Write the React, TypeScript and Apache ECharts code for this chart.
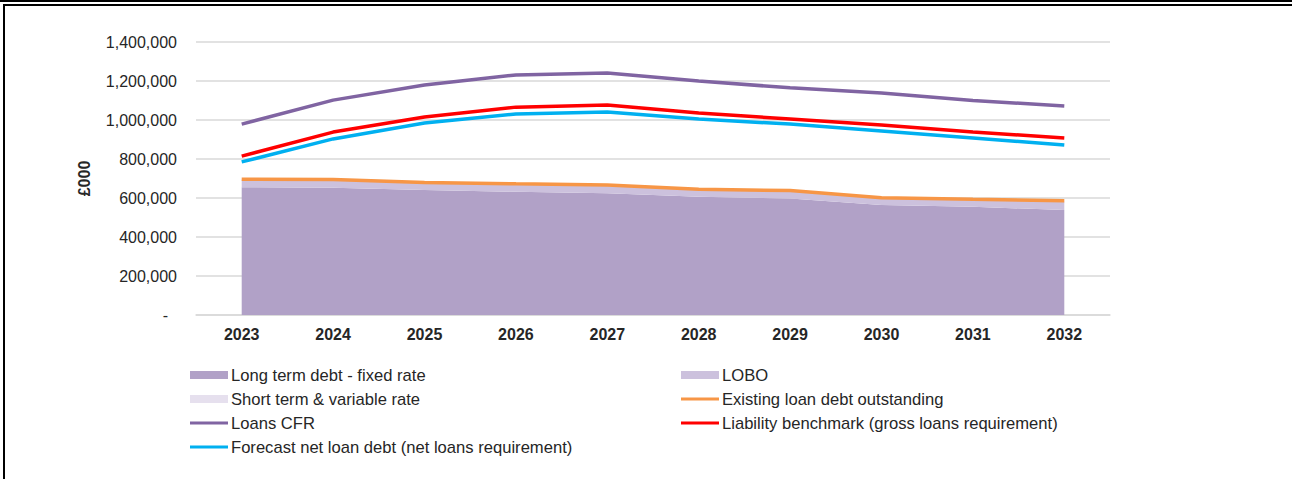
import React, { useEffect, useRef } from "react";
import * as echarts from "echarts";

const years = ["2023", "2024", "2025", "2026", "2027", "2028", "2029", "2030", "2031", "2032"];
const longTermFixed = [655000, 653000, 641000, 632000, 624000, 607000, 597000, 564000, 555000, 538000];
const lobo = [37000, 37000, 35000, 37000, 38000, 34000, 37000, 33000, 34000, 43000];
const shortTermVariable = [4000, 5000, 4000, 4000, 5000, 4000, 4000, 4000, 4000, 5000];
const existingDebt = [696000, 695000, 680000, 673000, 667000, 645000, 638000, 601000, 593000, 586000];
const loansCFR = [979000, 1102000, 1179000, 1231000, 1241000, 1200000, 1165000, 1138000, 1100000, 1072000];
const liabilityBenchmark = [815000, 938000, 1015000, 1066000, 1077000, 1036000, 1005000, 974000, 938000, 908000];
const forecastNetDebt = [785000, 903000, 985000, 1031000, 1041000, 1005000, 979000, 944000, 908000, 872000];

const FONT = "'Liberation Sans', Arial, sans-serif";

const legendDefs = [
  { name: "Long term debt - fixed rate", left: 190, row: 375, h: 8 },
  { name: "LOBO", left: 681, row: 375, h: 8 },
  { name: "Short term & variable rate", left: 190, row: 399, h: 8 },
  { name: "Existing loan debt outstanding", left: 681, row: 399, h: 3 },
  { name: "Loans CFR", left: 190, row: 423, h: 3 },
  { name: "Liability benchmark (gross loans requirement)", left: 681, row: 423, h: 3 },
  { name: "Forecast net loan debt (net loans requirement)", left: 190, row: 447, h: 3 },
];

export default function App() {
  const ref = useRef<HTMLDivElement>(null);
  useEffect(() => {
    if (!ref.current) return;
    const chart = echarts.init(ref.current, undefined, { renderer: "svg" });
    const areaSeries = (name: string, data: number[], color: string) => ({
      name,
      type: "line",
      stack: "debt",
      data,
      symbol: "none",
      lineStyle: { width: 0 },
      itemStyle: { color },
      areaStyle: { color, opacity: 1 },
      z: 1,
    });
    const lineSeries = (name: string, data: number[], color: string, z: number) => ({
      name,
      type: "line",
      data,
      symbol: "none",
      lineStyle: { width: 3.5, color },
      itemStyle: { color },
      z,
    });
    chart.setOption({
      animation: false,
      backgroundColor: "#ffffff",
      textStyle: { fontFamily: FONT },
      grid: { left: 196, right: 182, top: 42, bottom: 164, containLabel: false },
      legend: legendDefs.map((d) => ({
        data: [d.name],
        left: d.left,
        top: d.row - 9,
        icon: "rect",
        itemWidth: 38,
        itemHeight: d.h,
        itemGap: 0,
        padding: 0,
        selectedMode: false,
        textStyle: { fontFamily: FONT, fontSize: 16.6, color: "#262626", lineHeight: 18, padding: [0, 0, 0, -2] },
      })),
      xAxis: {
        type: "category",
        data: years,
        boundaryGap: true,
        axisLine: { show: true, lineStyle: { color: "#d9d9d9", width: 1.5 } },
        axisTick: { show: false },
        axisLabel: { fontFamily: FONT, fontSize: 16, fontWeight: "bold", color: "#262626", margin: 11 },
      },
      yAxis: {
        type: "value",
        min: 0,
        max: 1400000,
        interval: 200000,
        name: "£000",
        nameLocation: "middle",
        nameRotate: 90,
        nameGap: 104,
        nameTextStyle: { fontFamily: FONT, fontSize: 16, fontWeight: "bold", color: "#262626" },
        axisLine: { show: false },
        axisTick: { show: false },
        splitLine: { lineStyle: { color: "#d9d9d9", width: 1.5 } },
        axisLabel: {
          fontFamily: FONT,
          fontSize: 16,
          color: "#262626",
          margin: 19,
          formatter: (v: number) => (v === 0 ? "{d|-}" : v.toLocaleString("en-US")),
          rich: { d: { fontFamily: FONT, fontSize: 16, color: "#262626", padding: [0, 9, 0, 0] } },
        },
      },
      series: [
        areaSeries("Long term debt - fixed rate", longTermFixed, "#b1a1c7"),
        areaSeries("LOBO", lobo, "#ccc1dd"),
        areaSeries("Short term & variable rate", shortTermVariable, "#e6e0ee"),
        lineSeries("Existing loan debt outstanding", existingDebt, "#f79646", 3),
        lineSeries("Loans CFR", loansCFR, "#8064a2", 4),
        lineSeries("Liability benchmark (gross loans requirement)", liabilityBenchmark, "#ff0000", 5),
        lineSeries("Forecast net loan debt (net loans requirement)", forecastNetDebt, "#00b0f0", 6),
      ],
    });
    return () => chart.dispose();
  }, []);

  return (
    <div style={{ position: "fixed", left: 0, top: 0, width: 1292, height: 479, background: "#fff", overflow: "hidden" }}>
      <div ref={ref} style={{ position: "absolute", left: 0, top: 0, width: 1292, height: 479 }} />
      <div style={{ position: "absolute", left: 0, top: 0, width: 1292, height: 2, background: "#000", pointerEvents: "none" }} />
      <div style={{ position: "absolute", left: 3, top: 4, width: 1289, height: 2, background: "#000", pointerEvents: "none" }} />
      <div style={{ position: "absolute", left: 3, top: 4, width: 2, height: 475, background: "#000", pointerEvents: "none" }} />
    </div>
  );
}
